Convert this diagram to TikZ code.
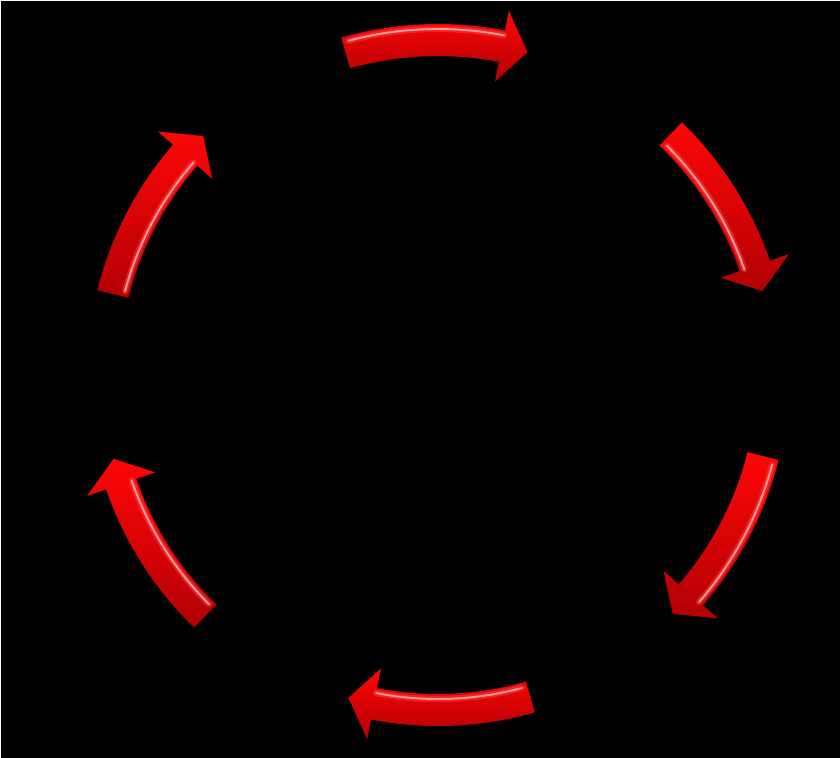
\documentclass[tikz,border=0pt]{standalone}
\usetikzlibrary{positioning}
\definecolor{arrowtop}{RGB}{255,6,6}
\definecolor{arrowbot}{RGB}{178,0,4}
\definecolor{shinecol}{RGB}{255,175,175}
\begin{document}
\begin{tikzpicture}[arrowbody/.style={top color=arrowtop, bottom color=arrowbot, draw=none},
        shine/.style={shinecol, line width=1.1pt, line cap=round, opacity=0.85},
        glow/.style={red!75!white, line width=3.5pt, line cap=round, opacity=0.5}]
        % background and frame
        \fill[black] (-8.76,-7.66) rectangle (8.04,7.5);
        \useasboundingbox (-8.76,-7.66) rectangle (8.04,7.5);
        \draw[white, line width=1.2pt] (-8.76,-7.66) -- (-8.76,7.5) -- (8.04,7.5);
        % six arrows around the cycle, clockwise
        \foreach \c/\s [evaluate=\c as \a using \c+16, evaluate=\c as \b using \c-11,
                evaluate=\c as \t using \c-15.5, evaluate=\c as \h using \c+15,
                evaluate=\s as \r using 6.7+0.22*\s] in {90/1, 30/-1, -30/1, -90/-1, -150/-1, 150/-1} {
            \shade[arrowbody] (\a:7.02) arc[start angle=\a, end angle=\b, radius=7.02]
                -- (\b:7.42) -- (\t:6.7) -- (\b:5.98) -- (\b:6.38)
                arc[start angle=\b, end angle=\a, radius=6.38] -- cycle;
            \draw[glow] (\h:\r) arc[start angle=\h, end angle=\b, radius=\r];
            \draw[shine] (\h:\r) arc[start angle=\h, end angle=\b, radius=\r];
        }
    \end{tikzpicture}
\end{document}
